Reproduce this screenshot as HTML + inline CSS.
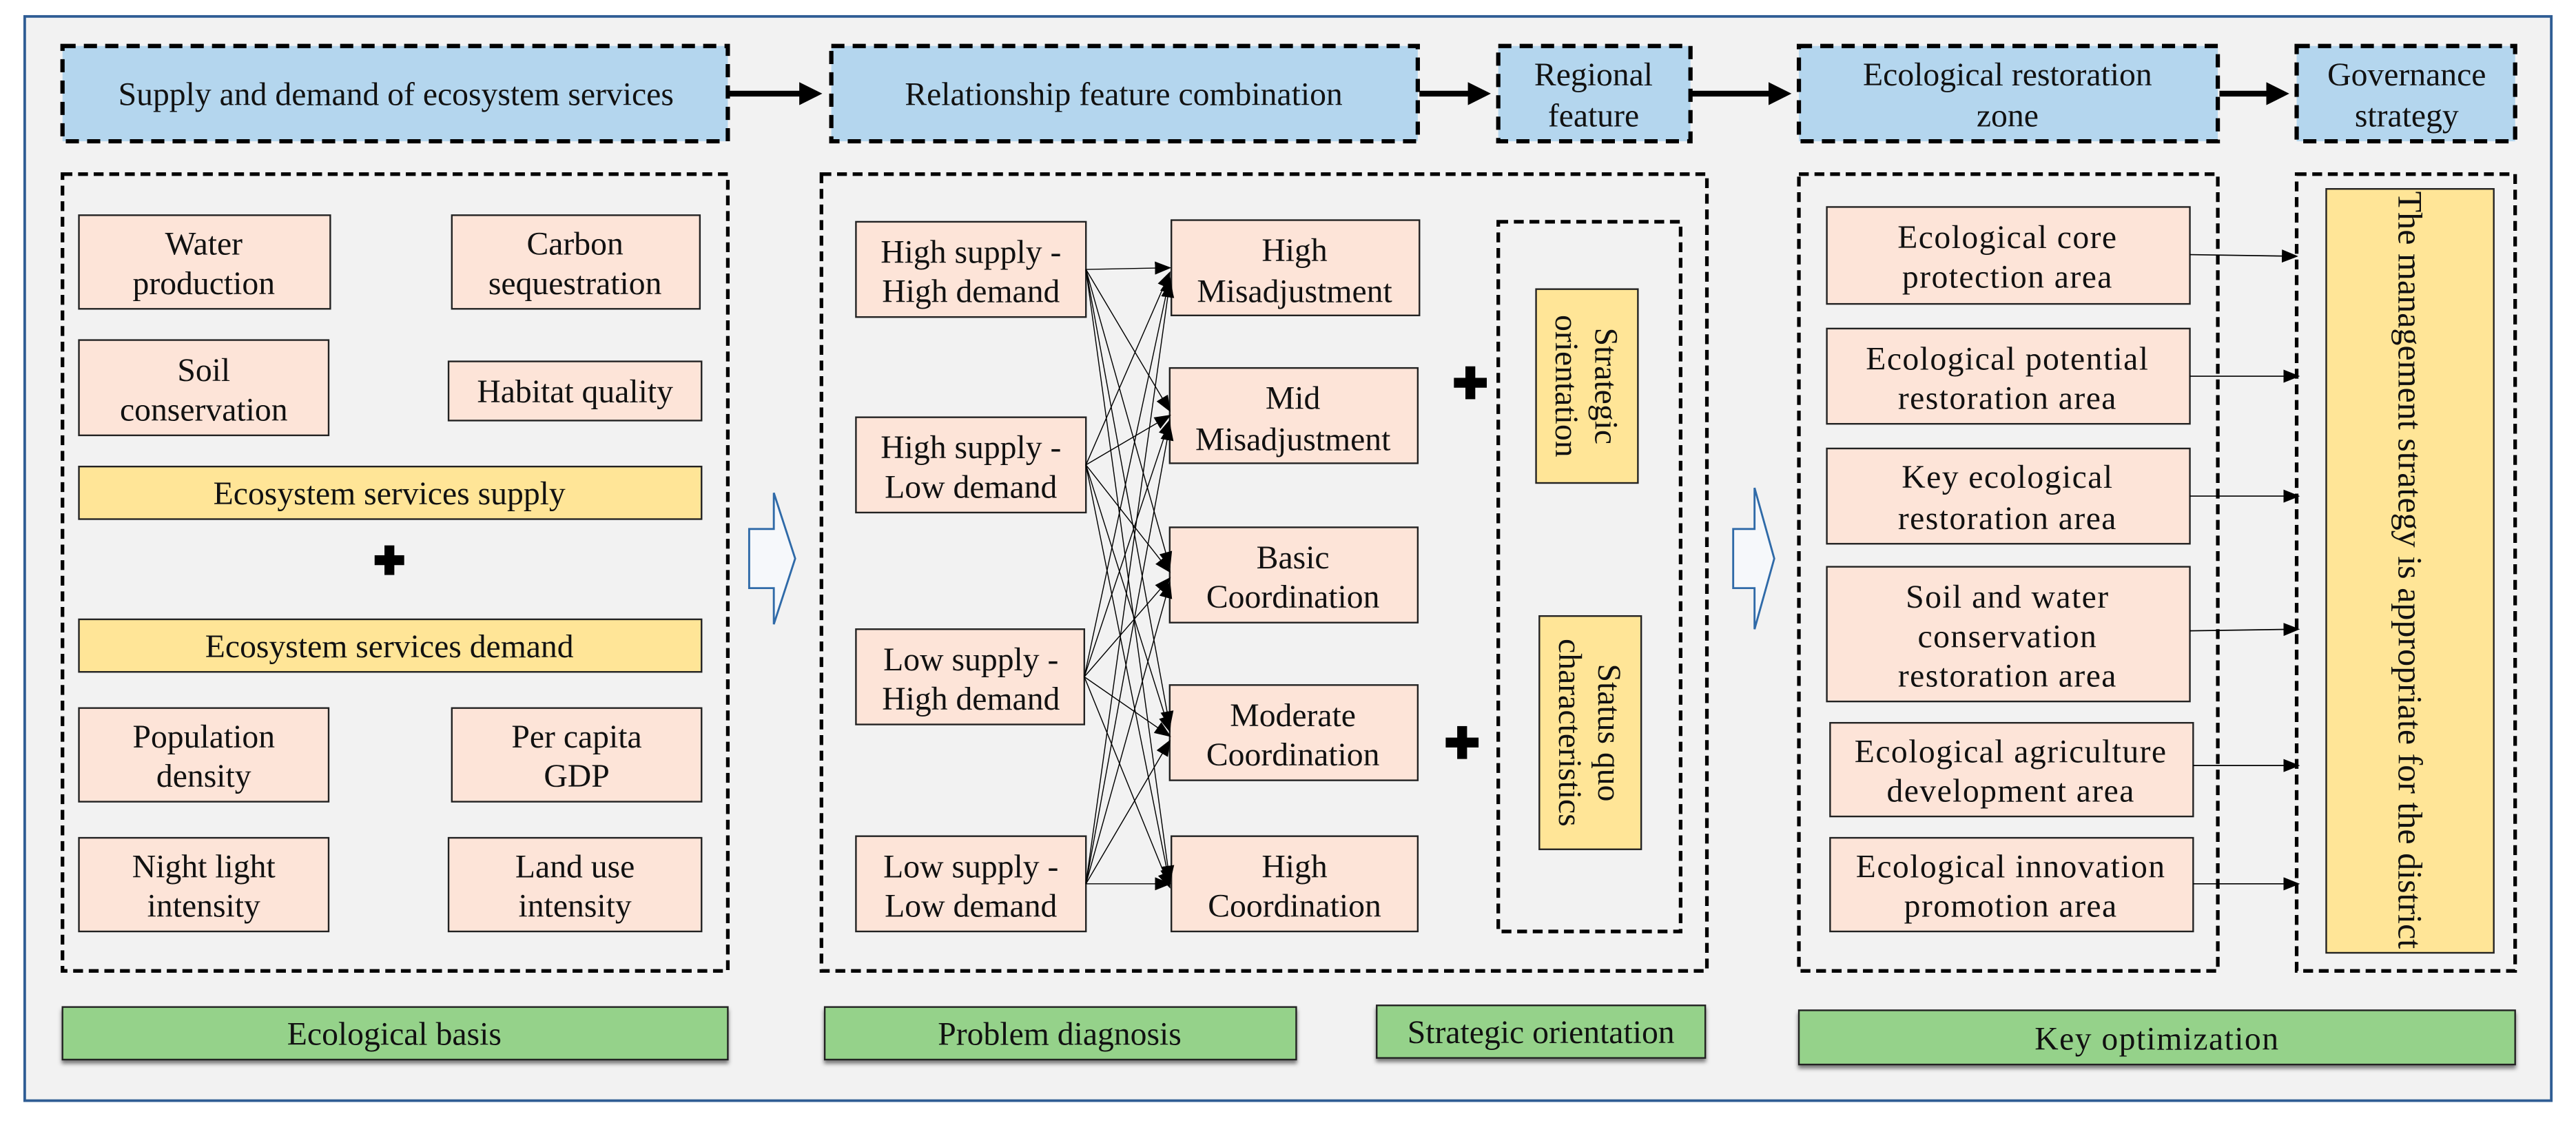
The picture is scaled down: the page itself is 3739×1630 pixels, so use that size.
<!DOCTYPE html>
<html><head><meta charset="utf-8"><style>
html,body{margin:0;padding:0;background:#fff;}
svg{display:block;}
svg text{font-family:"Liberation Serif","Times New Roman",serif !important;fill:#111;}
</style></head><body>
<svg width="3739" height="1630" viewBox="0 0 1568 683.6" xmlns="http://www.w3.org/2000/svg" font-family="Liberation Serif, serif">
<defs>
<marker id="big" markerWidth="4" markerHeight="4" refX="3" refY="2" orient="auto" markerUnits="strokeWidth"><path d="M0,0 L4,2 L0,4 Z" fill="#000"/></marker>
<marker id="sm" markerWidth="10" markerHeight="8" refX="9" refY="4" orient="auto" markerUnits="userSpaceOnUse"><path d="M0,0 L10,4 L0,8 Z" fill="#000"/></marker>
<filter id="sh" x="-5%" y="-20%" width="110%" height="160%"><feDropShadow dx="0" dy="2" stdDeviation="1.2" flood-color="#000" flood-opacity="0.5"/></filter>
</defs>
<rect x="0" y="0" width="1568" height="683.6" fill="#fff"/>
<rect x="15" y="10" width="1538" height="660" fill="#f2f2f2" stroke="#2f5d94" stroke-width="1.6"/>

<g fill="#b4d6ee" stroke="#000" stroke-width="2.6" stroke-dasharray="8 5">
<rect x="38" y="28" width="405" height="58"/>
<rect x="506" y="28" width="357" height="58"/>
<rect x="912" y="28" width="117" height="58"/>
<rect x="1095" y="28" width="255" height="58"/>
<rect x="1398" y="28" width="133" height="58"/>
</g>
<g font-size="20" text-anchor="middle">
<text x="241" y="64">Supply and demand of ecosystem services</text>
<text x="684" y="64">Relationship feature combination</text>
<text x="970" y="52">Regional</text><text x="970" y="77">feature</text>
<text x="1222" y="52">Ecological restoration</text><text x="1222" y="77">zone</text>
<text x="1465" y="52">Governance</text><text x="1465" y="77">strategy</text>
</g>
<g stroke="#000" stroke-width="3.5" marker-end="url(#big)">
<line x1="444" y1="57" x2="497" y2="57"/>
<line x1="864" y1="57" x2="904" y2="57"/>
<line x1="1030" y1="57" x2="1087" y2="57"/>
<line x1="1351" y1="57" x2="1390" y2="57"/>
</g>

<g fill="none" stroke="#000" stroke-width="2.2" stroke-dasharray="6 3.5">
<rect x="38" y="106" width="405" height="485"/>
<rect x="500" y="106" width="539" height="485"/>
<rect x="912" y="135" width="111" height="432"/>
<rect x="1095" y="106" width="255" height="485"/>
<rect x="1398" y="106" width="133" height="485"/>
</g>

<g fill="#fde4d8" stroke="#222" stroke-width="1">
<rect x="48" y="131" width="153" height="57"/>
<rect x="275" y="131" width="151" height="57"/>
<rect x="48" y="207" width="152" height="58"/>
<rect x="273" y="220" width="154" height="36"/>
<rect x="48" y="431" width="152" height="57"/>
<rect x="275" y="431" width="152" height="57"/>
<rect x="48" y="510" width="152" height="57"/>
<rect x="273" y="510" width="154" height="57"/>
</g>
<g fill="#ffe597" stroke="#222" stroke-width="1">
<rect x="48" y="284" width="379" height="32"/>
<rect x="48" y="377" width="379" height="32"/>
</g>
<g font-size="20" text-anchor="middle">
<text x="124" y="155">Water</text><text x="124" y="179">production</text>
<text x="350" y="155">Carbon</text><text x="350" y="179">sequestration</text>
<text x="124" y="232">Soil</text><text x="124" y="256">conservation</text>
<text x="350" y="245">Habitat quality</text>
<text x="237" y="307">Ecosystem services supply</text>
<text x="237" y="400">Ecosystem services demand</text>
<text x="124" y="455">Population</text><text x="124" y="479">density</text>
<text x="351" y="455">Per capita</text><text x="351" y="479">GDP</text>
<text x="124" y="534">Night light</text><text x="124" y="558">intensity</text>
<text x="350" y="534">Land use</text><text x="350" y="558">intensity</text>
</g>
<g fill="#000">
<rect x="228" y="338" width="18" height="6"/><rect x="234" y="332" width="6" height="18"/>
<rect x="885" y="230" width="20" height="6"/><rect x="892" y="223" width="6" height="20"/>
<rect x="880" y="449" width="20" height="6"/><rect x="887" y="442" width="6" height="20"/>
</g>

<polygon points="456,322 471,322 471,300 484,340 471,380 471,358 456,358" fill="#f6f8fb" stroke="#2f6aa8" stroke-width="1.2"/>
<polygon points="1055,322 1068,322 1068,297 1080,340 1068,383 1068,358 1055,358" fill="#f6f8fb" stroke="#2f6aa8" stroke-width="1.2"/>

<g fill="#fde4d8" stroke="#222" stroke-width="1">
<rect x="521" y="135" width="140" height="58"/>
<rect x="521" y="254" width="140" height="58"/>
<rect x="521" y="383" width="139" height="58"/>
<rect x="521" y="509" width="140" height="58"/>
<rect x="713" y="134" width="151" height="58"/>
<rect x="712" y="224" width="151" height="58"/>
<rect x="712" y="321" width="151" height="58"/>
<rect x="712" y="417" width="151" height="58"/>
<rect x="713" y="509" width="150" height="58"/>
</g>
<g font-size="20" text-anchor="middle">
<text x="591" y="160">High supply -</text><text x="591" y="184">High demand</text>
<text x="591" y="279">High supply -</text><text x="591" y="303">Low demand</text>
<text x="591" y="408">Low supply -</text><text x="591" y="432">High demand</text>
<text x="591" y="534">Low supply -</text><text x="591" y="558">Low demand</text>
<text x="788" y="159">High</text><text x="788" y="184">Misadjustment</text>
<text x="787" y="249">Mid</text><text x="787" y="274">Misadjustment</text>
<text x="787" y="346">Basic</text><text x="787" y="370">Coordination</text>
<text x="787" y="442">Moderate</text><text x="787" y="466">Coordination</text>
<text x="788" y="534">High</text><text x="788" y="558">Coordination</text>
</g>
<g stroke="#000" stroke-width="0.6" marker-end="url(#sm)" fill="none">
<line x1="661" y1="164" x2="712" y2="163"/><line x1="661" y1="164" x2="712" y2="250"/><line x1="661" y1="164" x2="712" y2="345"/><line x1="661" y1="164" x2="712" y2="442"/><line x1="661" y1="164" x2="712" y2="536"/>
<line x1="661" y1="283" x2="712" y2="166"/><line x1="661" y1="283" x2="712" y2="253"/><line x1="661" y1="283" x2="712" y2="348"/><line x1="661" y1="283" x2="712" y2="445"/><line x1="661" y1="283" x2="712" y2="538"/>
<line x1="660" y1="412" x2="712" y2="169"/><line x1="660" y1="412" x2="712" y2="256"/><line x1="660" y1="412" x2="712" y2="352"/><line x1="660" y1="412" x2="712" y2="448"/><line x1="660" y1="412" x2="712" y2="540"/>
<line x1="661" y1="538" x2="712" y2="172"/><line x1="661" y1="538" x2="712" y2="259"/><line x1="661" y1="538" x2="712" y2="355"/><line x1="661" y1="538" x2="712" y2="451"/><line x1="661" y1="538" x2="712" y2="538"/>
</g>
<g fill="#ffe597" stroke="#222" stroke-width="1">
<rect x="935" y="176" width="62" height="118"/>
<rect x="937" y="375" width="62" height="142"/>
<rect x="1416" y="115" width="102" height="465"/>
</g>
<g font-size="20" text-anchor="middle">
<text transform="translate(966,235) rotate(90)"><tspan x="0" y="-5">Strategic</tspan><tspan x="0" y="19">orientation</tspan></text>
<text transform="translate(968,446) rotate(90)"><tspan x="0" y="-5">Status quo</tspan><tspan x="0" y="19">characteristics</tspan></text>
<text transform="translate(1467,347) rotate(90)" font-size="21" x="0" y="7">The management strategy is appropriate for the district</text>
</g>

<g fill="#fde4d8" stroke="#222" stroke-width="1">
<rect x="1112" y="126" width="221" height="59"/>
<rect x="1112" y="200" width="221" height="58"/>
<rect x="1112" y="273" width="221" height="58"/>
<rect x="1112" y="345" width="221" height="82"/>
<rect x="1114" y="440" width="221" height="57"/>
<rect x="1114" y="510" width="221" height="57"/>
</g>
<g font-size="20" text-anchor="middle" letter-spacing="0.6">
<text x="1222" y="151">Ecological core</text><text x="1222" y="175">protection area</text>
<text x="1222" y="225">Ecological potential</text><text x="1222" y="249">restoration area</text>
<text x="1222" y="297">Key ecological</text><text x="1222" y="322">restoration area</text>
<text x="1222" y="370">Soil and water</text><text x="1222" y="394">conservation</text><text x="1222" y="418">restoration area</text>
<text x="1224" y="464">Ecological agriculture</text><text x="1224" y="488">development area</text>
<text x="1224" y="534">Ecological innovation</text><text x="1224" y="558">promotion area</text>
</g>
<g stroke="#000" stroke-width="0.7" marker-end="url(#sm)">
<line x1="1333" y1="155" x2="1398" y2="156"/>
<line x1="1333" y1="229" x2="1399" y2="229"/>
<line x1="1333" y1="302" x2="1399" y2="302"/>
<line x1="1333" y1="384" x2="1399" y2="383"/>
<line x1="1335" y1="466" x2="1399" y2="466"/>
<line x1="1335" y1="538" x2="1399" y2="538"/>
</g>

<g fill="#95d28a" stroke="#222" stroke-width="1" filter="url(#sh)">
<rect x="38" y="613" width="405" height="32"/>
<rect x="502" y="613" width="287" height="32"/>
<rect x="838" y="612" width="200" height="32"/>
<rect x="1095" y="615" width="436" height="33"/>
</g>
<g font-size="20" text-anchor="middle">
<text x="240" y="636">Ecological basis</text>
<text x="645" y="636">Problem diagnosis</text>
<text x="938" y="635">Strategic orientation</text>
<text x="1313" y="639" letter-spacing="0.6">Key optimization</text>
</g>
</svg>
</body></html>
